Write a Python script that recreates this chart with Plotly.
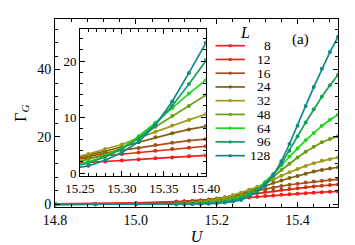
import plotly.graph_objects as go

# ---- data ----
U = [14.8, 14.9, 15.0, 15.1, 15.12, 15.14, 15.16, 15.18, 15.20, 15.22, 15.24, 15.26,
     15.28, 15.30, 15.32, 15.34, 15.36, 15.38, 15.40, 15.42, 15.44, 15.46, 15.48, 15.50]

L_labels = ["8", "12", "16", "24", "32", "48", "64", "96", "128"]

G8 = [0.1, 0.2, 0.4, 0.8, 0.9, 1.0, 1.1, 1.25, 1.4, 1.55, 1.7, 1.85, 2.05, 2.25, 2.45, 2.65, 2.8, 3.0, 3.15, 3.3, 3.45, 3.6, 3.7, 3.8]
G12 = [0.05, 0.1, 0.25, 0.65, 0.8, 0.95, 1.15, 1.4, 1.7, 2.0, 2.35, 2.7, 3.1, 3.4, 3.7, 4.0, 4.3, 4.55, 4.8, 5.05, 5.3, 5.5, 5.7, 5.9]
G16 = [0.03, 0.05, 0.15, 0.45, 0.6, 0.75, 0.95, 1.25, 1.6, 2.0, 2.5, 3.0, 3.6, 4.1, 4.5, 5.0, 5.4, 5.8, 6.1, 6.5, 6.8, 7.0, 7.2, 7.4]
G24 = [0.01, 0.02, 0.08, 0.3, 0.45, 0.6, 0.85, 1.15, 1.55, 2.0, 2.6, 3.2, 3.9, 4.7, 5.5, 6.4, 7.1, 7.8, 8.4, 9.1, 9.7, 10.2, 10.6, 11.0]
G32 = [0.0, 0.01, 0.04, 0.22, 0.35, 0.5, 0.75, 1.05, 1.5, 2.0, 2.7, 3.4, 4.3, 5.1, 6.3, 7.4, 8.5, 9.5, 10.5, 11.4, 12.2, 12.9, 13.4, 13.9]
G48 = [0.0, 0.0, 0.02, 0.12, 0.2, 0.3, 0.45, 0.65, 0.9, 1.3, 1.8, 2.5, 3.3, 4.5, 6.4, 8.3, 10.2, 12.0, 13.9, 15.6, 17.1, 18.4, 19.4, 20.2]
G64 = [0.0, 0.0, 0.01, 0.07, 0.12, 0.18, 0.28, 0.4, 0.6, 0.9, 1.3, 2.0, 3.0, 4.4, 6.6, 9.0, 11.6, 14.2, 16.6, 19.0, 21.2, 23.3, 25.1, 26.6]
G96 = [0.0, 0.0, 0.0, 0.05, 0.08, 0.12, 0.2, 0.3, 0.45, 0.7, 1.1, 1.8, 2.9, 4.3, 6.2, 8.7, 12.0, 15.9, 20.2, 24.3, 28.2, 31.9, 35.3, 38.4]
G128 = [0.0, 0.0, 0.0, 0.03, 0.05, 0.08, 0.12, 0.2, 0.3, 0.5, 0.8, 1.3, 2.3, 3.7, 5.6, 8.6, 12.8, 17.9, 23.3, 29.2, 34.8, 40.2, 45.2, 49.7]

series = [G8, G12, G16, G24, G32, G48, G64, G96, G128]
colors = ["#ff1a1a", "#d0300c", "#a4501c", "#806010", "#a09a18",
          "#66a010", "#1ed81e", "#18a058", "#108a8a"]

main_xticks = [14.8, 15.0, 15.2, 15.4]
main_yticks = [0, 20, 40]
inset_xticks = [15.25, 15.30, 15.35, 15.40]
inset_yticks = [0, 10, 20]

FONT = "Liberation Serif"
W, H = 355, 245
ML, MR, MT, MB = 47, 10, 10, 38
PW, PH = W - ML - MR, H - MT - MB


def px(x):
    return (x - ML) / PW


def py(y):
    return (H - MB - y) / PH


fig = go.Figure()
for vals, col in zip(series, colors):
    fig.add_trace(go.Scatter(x=U, y=vals, mode="lines+markers",
                             line=dict(color=col, width=1.7),
                             marker=dict(color=col, size=4),
                             showlegend=False, xaxis="x", yaxis="y"))
for vals, col in zip(series, colors):
    fig.add_trace(go.Scatter(x=U, y=vals, mode="lines+markers",
                             line=dict(color=col, width=1.7),
                             marker=dict(color=col, size=4),
                             showlegend=False, xaxis="x2", yaxis="y2"))

axis_common = dict(showline=True, linecolor="black", linewidth=1, mirror="allticks",
                   ticks="inside", ticklen=5, tickcolor="black", showgrid=False,
                   zeroline=False)

fig.update_layout(
    width=W, height=H,
    margin=dict(l=ML, r=MR, t=MT, b=MB),
    paper_bgcolor="white", plot_bgcolor="white",
    font=dict(family=FONT, color="black", size=14),
    xaxis=dict(domain=[0, 1], range=[14.8, 15.5], tickvals=main_xticks,
               ticktext=["%.1f" % v for v in main_xticks],
               tickfont=dict(family=FONT, size=14, color="black"),
               minor=dict(dtick=0.04, tick0=14.8, ticks="inside", ticklen=3, tickcolor="black"),
               title=dict(text="<i>U</i>", font=dict(family=FONT, size=16), standoff=4),
               **axis_common),
    yaxis=dict(domain=[0, 1], range=[-0.8, 55], tickvals=main_yticks,
               tickfont=dict(family=FONT, size=14, color="black"),
               minor=dict(dtick=4, tick0=0, ticks="inside", ticklen=3, tickcolor="black"),
               title=dict(text="Γ<sub><i>G</i></sub>", font=dict(family=FONT, size=16), standoff=6),
               **axis_common),
    xaxis2=dict(domain=[px(73.3), px(205.7)], anchor="y2", range=[15.25, 15.40],
                tickvals=inset_xticks, ticktext=["%.2f" % v for v in inset_xticks],
                tickfont=dict(family=FONT, size=13, color="black"),
                minor=dict(dtick=0.01, tick0=15.25, ticks="inside", ticklen=3, tickcolor="black"),
                **axis_common),
    yaxis2=dict(domain=[py(175), py(20.7)], anchor="x2", range=[-0.6, 25.7],
                tickvals=inset_yticks,
                tickfont=dict(family=FONT, size=13, color="black"),
                minor=dict(dtick=2, tick0=0, ticks="inside", ticklen=3, tickcolor="black"),
                **axis_common),
)

# ---- manual legend ----
shapes = []
annotations = []
y0 = 38.0
dy = 14.4
for i, (lab, col) in enumerate(zip(L_labels, colors)):
    yy = y0 + i * dy
    shapes.append(dict(type="line", xref="paper", yref="paper",
                       x0=px(216), x1=px(247), y0=py(yy), y1=py(yy),
                       line=dict(color=col, width=1.7), layer="above"))
    shapes.append(dict(type="circle", xref="paper", yref="paper",
                       x0=px(229.8), x1=px(233.2), y0=py(yy + 1.7), y1=py(yy - 1.7),
                       fillcolor=col, line=dict(color=col, width=0), layer="above"))
    annotations.append(dict(text=lab, xref="paper", yref="paper", x=px(276), y=py(yy),
                            xanchor="right", yanchor="middle", showarrow=False, borderpad=0,
                            font=dict(family=FONT, size=13.5, color="black")))
annotations.append(dict(text="<i>L</i>", xref="paper", yref="paper", x=px(247), y=py(24),
                        xanchor="center", yanchor="middle", showarrow=False,
                        font=dict(family=FONT, size=16, color="black")))
annotations.append(dict(text="(a)", xref="paper", yref="paper", x=px(306), y=py(32),
                        xanchor="center", yanchor="middle", showarrow=False,
                        font=dict(family=FONT, size=15, color="black")))
fig.update_layout(shapes=shapes, annotations=annotations)

fig.write_html("out.html")
